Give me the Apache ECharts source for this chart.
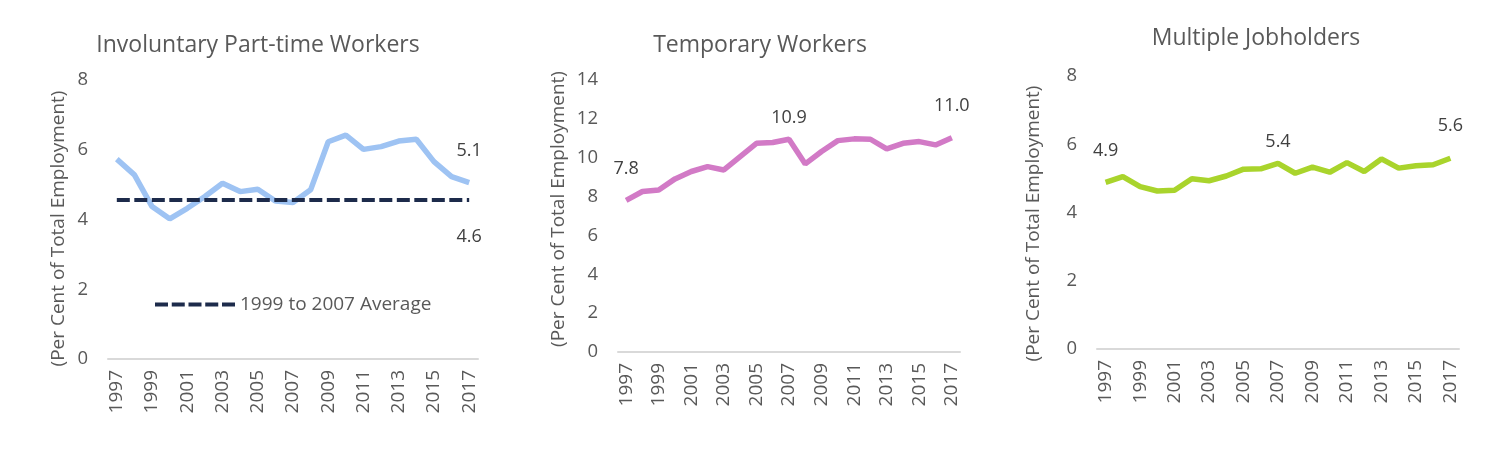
<!DOCTYPE html>
<html>
<head>
<meta charset="utf-8">
<script src="https://cdn.jsdelivr.net/npm/echarts@6/dist/echarts.min.js"></script>
<style>html,body{margin:0;padding:0;background:#fff}#c{width:1500px;height:469px}</style>
</head>
<body>
<div id="c"></div>
<script>
const years = ['1997','1998','1999','2000','2001','2002','2003','2004','2005','2006','2007','2008','2009','2010','2011','2012','2013','2014','2015','2016','2017'];
const involuntary = [5.73,5.28,4.37,4.02,4.32,4.66,5.04,4.80,4.87,4.53,4.49,4.85,6.23,6.42,6.01,6.09,6.25,6.30,5.66,5.23,5.06];
const temporary = [7.80,8.26,8.34,8.91,9.29,9.54,9.37,10.06,10.74,10.78,10.95,9.68,10.32,10.88,10.97,10.95,10.45,10.74,10.83,10.66,11.03];
const multiple = [4.88,5.05,4.76,4.63,4.65,4.99,4.93,5.07,5.27,5.28,5.44,5.15,5.33,5.18,5.46,5.20,5.57,5.30,5.37,5.40,5.59];
const avg9907 = 4.56;
const titles = ['Involuntary Part-time Workers','Temporary Workers','Multiple Jobholders'];
const yName = '(Per Cent of Total Employment)';
const avgName = '1999 to 2007 Average';
const labelled1 = {20:'5.1'};
const labelled2 = {0:'7.8',10:'10.9',20:'11.0'};
const labelled3 = {0:'4.9',10:'5.4',20:'5.6'};

const FONT = '"Open Sans", "Noto Sans", sans-serif';
const grey = '#595959';

function mkLabels(vals, lab) {
  return Object.keys(lab).map(k => {
    const i = +k;
    return {
      coord: [years[i], vals[i]],
      label: {show: true, formatter: lab[k], color: '#404040', fontSize: 18, fontFamily: FONT,
        offset: [0, i === 10 ? -21 : -32]}
    };
  });
}
function labelMark(vals, lab) {
  return {symbol: 'circle', symbolSize: 0, silent: true, data: mkLabels(vals, lab)};
}

const grids = [
  {left: 108, top: 80, width: 370, height: 279},
  {left: 618, top: 80, width: 342, height: 272},
  {left: 1097, top: 76, width: 362, height: 273}
];
const ymax = [8, 14, 8];
const nameGaps = [40, 50, 54];
const namePads = [[0, 18, 0, 0], [0, 0, 0, 14], [0, 22, 0, 0]];

const xAxes = grids.map((g, i) => ({
  type: 'category', gridIndex: i, data: years, boundaryGap: true,
  axisLine: {lineStyle: {color: '#d9d9d9', width: 2}},
  axisTick: {show: false},
  axisLabel: {rotate: 90, interval: 1, color: grey, fontSize: 19, fontFamily: FONT, margin: 11}
}));
const yAxes = grids.map((g, i) => ({
  type: 'value', gridIndex: i, min: 0, max: ymax[i], interval: 2,
  axisLine: {show: false}, axisTick: {show: false}, splitLine: {show: false},
  axisLabel: {color: grey, fontSize: 18.5, fontFamily: FONT, margin: 20},
  name: yName, nameLocation: 'middle', nameGap: nameGaps[i], nameRotate: 90,
  nameTextStyle: {color: grey, fontSize: 19, fontFamily: FONT, padding: namePads[i]}
}));

const dashIcon = 'path://M0,0H13V4H0Z M16.75,0H29.75V4H16.75Z M33.5,0H46.5V4H33.5Z M50.25,0H63.25V4H50.25Z M67,0H80V4H67Z';
const titleStyle = {color: grey, fontSize: 23, fontWeight: 'normal', fontFamily: FONT};

const option = {
  backgroundColor: '#fff',
  animation: false,
  title: [
    {text: titles[0], left: 253, top: 29, textAlign: 'center', textStyle: titleStyle},
    {text: titles[1], left: 755, top: 29, textAlign: 'center', textStyle: titleStyle},
    {text: titles[2], left: 1251, top: 22, textAlign: 'center', textStyle: titleStyle}
  ],
  legend: {
    data: [{name: avgName, icon: dashIcon}], left: 150, top: 290, itemWidth: 80, itemHeight: 4, itemGap: 6,
    textStyle: {color: grey, fontSize: 19, fontFamily: FONT}
  },
  grid: grids,
  xAxis: xAxes,
  yAxis: yAxes,
  series: [
    {type: 'line', name: 'Involuntary', xAxisIndex: 0, yAxisIndex: 0, data: involuntary, symbol: 'none',
      lineStyle: {color: '#9ec3f3', width: 5.5}, itemStyle: {color: '#9ec3f3'}, z: 2,
      markPoint: labelMark(involuntary, labelled1)},
    {type: 'line', name: avgName, xAxisIndex: 0, yAxisIndex: 0, data: [], symbol: 'none',
      lineStyle: {color: '#1d2b4b', width: 4, type: [13, 4.5]}, itemStyle: {color: '#1d2b4b'}, z: 3,
      markLine: {silent: true, symbol: 'none', label: {show: false},
        lineStyle: {color: '#1d2b4b', width: 4, type: [13, 4.5]},
        data: [[{coord: [years[0], avg9907]}, {coord: [years[years.length - 1], avg9907]}]]},
      markPoint: {symbol: 'circle', symbolSize: 0, silent: true,
        label: {show: true, formatter: avg9907.toFixed(1), color: '#404040', fontSize: 18, fontFamily: FONT, offset: [0, 37]},
        data: [{coord: [years[years.length - 1], avg9907]}]}
    },
    {type: 'line', name: 'Temporary', xAxisIndex: 1, yAxisIndex: 1, data: temporary, symbol: 'none',
      lineStyle: {color: '#d27ac6', width: 5.5}, itemStyle: {color: '#d27ac6'},
      markPoint: labelMark(temporary, labelled2)},
    {type: 'line', name: 'Multiple', xAxisIndex: 2, yAxisIndex: 2, data: multiple, symbol: 'none',
      lineStyle: {color: '#a9d42c', width: 5.5}, itemStyle: {color: '#a9d42c'},
      markPoint: labelMark(multiple, labelled3)}
  ]
};
const chart = echarts.init(document.getElementById('c'), null, {renderer: 'canvas'});
chart.setOption(option);
</script>
</body>
</html>
